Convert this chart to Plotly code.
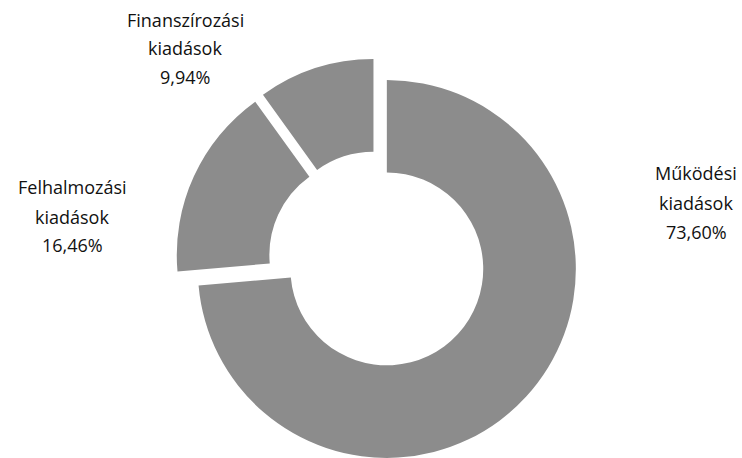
import numpy as np
import plotly.graph_objects as go

# ---- data ----
categories = ["Működési kiadások", "Felhalmozási kiadások", "Finanszírozási kiadások"]
label_lines = [["Működési", "kiadások"], ["Felhalmozási", "kiadások"], ["Finanszírozási", "kiadások"]]
shares = [73.60, 16.46, 9.94]

# ---- layout / style ----
W, H = 742, 458
CX, CY = 377.4, 260.3   # centre of the un-exploded ring (px)
R = 189                 # outer radius (px)
PULL = 12.8             # explosion distance (px)
HOLE = 0.51
FILL = "#8c8c8c"
FONT = dict(family="'Open Sans', sans-serif", size=18, color="#111111")
# label anchor positions (px): x centre, y of each text line
LABEL_X = [696, 72, 185]
LABEL_Y = [[173, 203, 232], [187, 217, 245], [20, 48, 77]]

fig = go.Figure()
total = sum(shares)
start = 0.0
for i, v in enumerate(shares):
    mid = (start + v / 2) / total * 2 * np.pi
    start += v
    cx = CX + PULL * np.sin(mid)
    cy = CY - PULL * np.cos(mid)
    colors = ["rgba(0,0,0,0)"] * len(shares)
    colors[i] = FILL
    y0 = max(0.0, 1 - (cy + R) / H)
    y1 = min(1.0, 1 - (cy - R) / H)
    x0 = max(0.0, (cx - R) / W)
    x1 = min(1.0, (cx + R) / W)
    fig.add_trace(go.Pie(
        values=shares, labels=categories, sort=False,
        direction="clockwise", rotation=0, hole=HOLE,
        marker=dict(colors=colors, line=dict(width=0)),
        textinfo="none", hoverinfo="label+percent", showlegend=False,
        domain=dict(x=[x0, x1], y=[y0, y1]),
    ))

annotations = []
for i, v in enumerate(shares):
    lines = label_lines[i] + [f"{v:.2f}".replace(".", ",") + "%"]
    for txt, py in zip(lines, LABEL_Y[i]):
        annotations.append(dict(
            x=LABEL_X[i] / W, y=1 - py / H, xref="paper", yref="paper",
            text=txt, showarrow=False, xanchor="center", yanchor="middle",
            font=FONT,
        ))

fig.update_layout(
    width=W, height=H, margin=dict(l=0, r=0, t=0, b=0),
    paper_bgcolor="white", plot_bgcolor="white",
    annotations=annotations, showlegend=False,
)
fig.write_html(
    "out.html",
    config={"displayModeBar": False},
    post_script="document.body.style.margin='0';document.body.style.overflow='hidden';",
)
